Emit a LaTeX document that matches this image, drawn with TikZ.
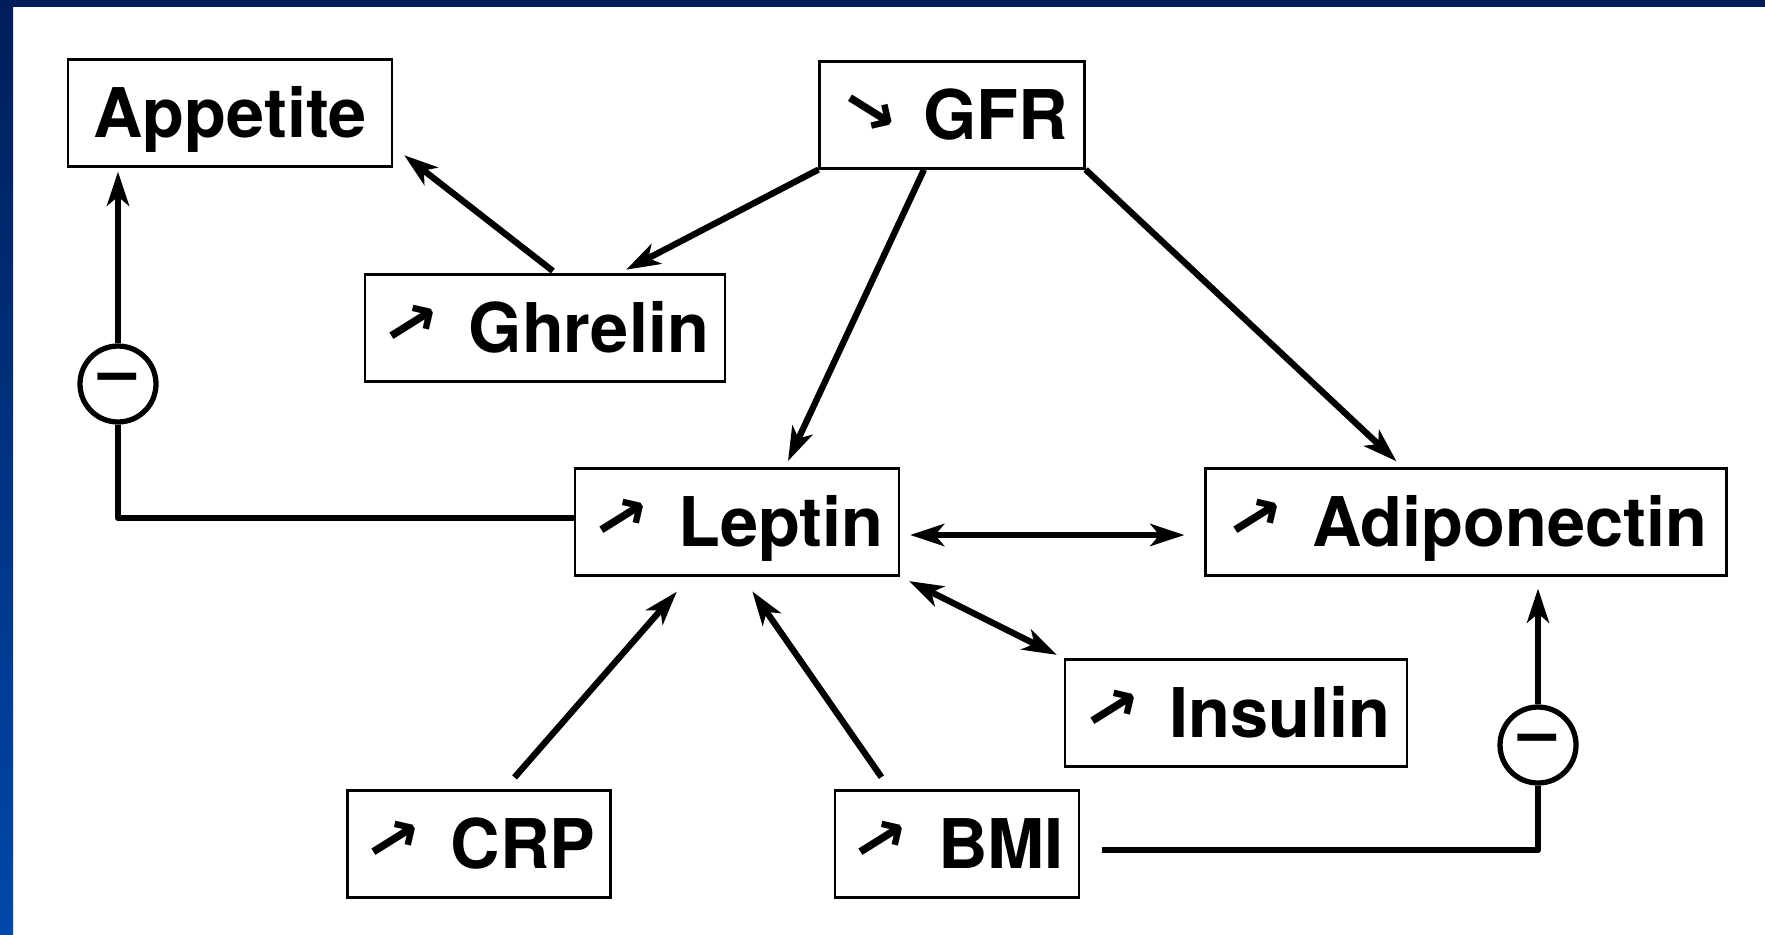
\documentclass[tikz,border=0pt]{standalone}
\usepackage{fontspec}
\usepackage{graphicx}
\setmainfont{TeX Gyre Heros}
\newfontfamily\arrowfont{DejaVu Sans}
\usetikzlibrary{arrows.meta}

\definecolor{bandtop}{RGB}{0,30,90}
\definecolor{bandbot}{RGB}{0,72,170}

\newcommand{\risesym}{\raisebox{2.5pt}{\rotatebox[origin=c]{32}{\arrowfont\bfseries\fontsize{18.5}{18.5}\selectfont →}}\hspace{0.23cm}}
\newcommand{\fallsym}{\raisebox{2.5pt}{\rotatebox[origin=c]{-32}{\arrowfont\bfseries\fontsize{18.5}{18.5}\selectfont →}}\hspace{0.22cm}}

\tikzset{
  factor/.style={draw, line width=0.6pt, fill=white, font=\fontsize{19.5}{23}\selectfont\bfseries,
    text height=14pt, text depth=0pt, minimum height=1.07cm, inner xsep=0.15cm},
  inhib/.style={circle, draw, line width=1.5pt, fill=white, minimum size=0.76cm, inner sep=0pt,
    font=\fontsize{19.5}{23}\selectfont\bfseries},
  link/.style={line width=1.8pt, line join=round},
  conn/.style={link, -{Stealth[length=3.4mm, width=2.2mm, inset=0.9mm]}},
  conn2/.style={link, {Stealth[length=3.4mm, width=2.2mm, inset=0.9mm]}-{Stealth[length=3.4mm, width=2.2mm, inset=0.9mm]}}
}

\begin{document}
\begin{tikzpicture}
\fill[white] (0,0) rectangle (17.65,9.34);
\shade[top color=bandtop, bottom color=bandbot] (0,0) rectangle (0.13,9.34);
\fill[bandtop] (0,9.27) rectangle (17.65,9.34);
\useasboundingbox (0,0) rectangle (17.65,9.34);

\node[factor, minimum width=3.24cm] (app) at (2.30,8.21) {Appetite};
\node[factor, minimum width=2.65cm] (gfr) at (9.52,8.19) {\fallsym GFR};
\node[factor, minimum width=3.60cm] (ghr) at (5.45,6.06) {\risesym Ghrelin};
\node[factor, minimum width=3.24cm] (lep) at (7.37,4.12) {\risesym Leptin};
\node[factor, minimum width=5.21cm] (adi) at (14.66,4.12) {\risesym Adiponectin};
\node[factor, minimum width=3.42cm] (ins) at (12.36,2.21) {\risesym Insulin};
\node[factor, minimum width=2.63cm] (crp) at (4.79,0.90) {\risesym CRP};
\node[factor, minimum width=2.43cm] (bmi) at (9.57,0.90) {\risesym BMI};

\node[inhib] (inh1) at (1.18,5.50) {–};
\node[inhib] (inh2) at (15.38,1.89) {–};

\draw[conn, shorten <=0.04cm, shorten >=0.14cm] ([xshift=0.11cm]ghr.north) -- ([yshift=0.21cm]app.south east);
\draw[conn, shorten >=0.08cm] (gfr.south west) -- ([xshift=0.74cm]ghr.north);
\draw[conn, shorten >=0.07cm] ([xshift=-0.28cm]gfr.south) -- ([xshift=0.48cm]lep.north);
\draw[conn, shorten >=0.09cm] (gfr.south east) -- ([xshift=-0.63cm]adi.north);
\draw[conn2, shorten <=0.10cm, shorten >=0.20cm] ([yshift=-0.13cm]lep.east) -- ([yshift=-0.13cm]adi.west);
\draw[conn2, shorten <=0.10cm, shorten >=0.08cm] (lep.south east) -- (ins.north west);
\draw[conn, shorten <=0.16cm, shorten >=0.20cm] ([xshift=0.25cm]crp.north) -- ([xshift=-0.47cm]lep.south);
\draw[conn, shorten <=0.15cm, shorten >=0.18cm] ([xshift=-0.67cm]bmi.north) -- ([xshift=0.05cm]lep.south);

\draw[link] ([yshift=0.04cm]lep.west) -| (inh1.south);
\draw[conn, shorten >=0.04cm] (inh1.north) -- (inh1.north |- app.south);
\draw[link, shorten <=0.22cm] ([yshift=-0.06cm]bmi.east) -| (inh2.south);
\draw[conn, shorten >=0.12cm] (inh2.north) -- (inh2.north |- adi.south);
\end{tikzpicture}
\end{document}
